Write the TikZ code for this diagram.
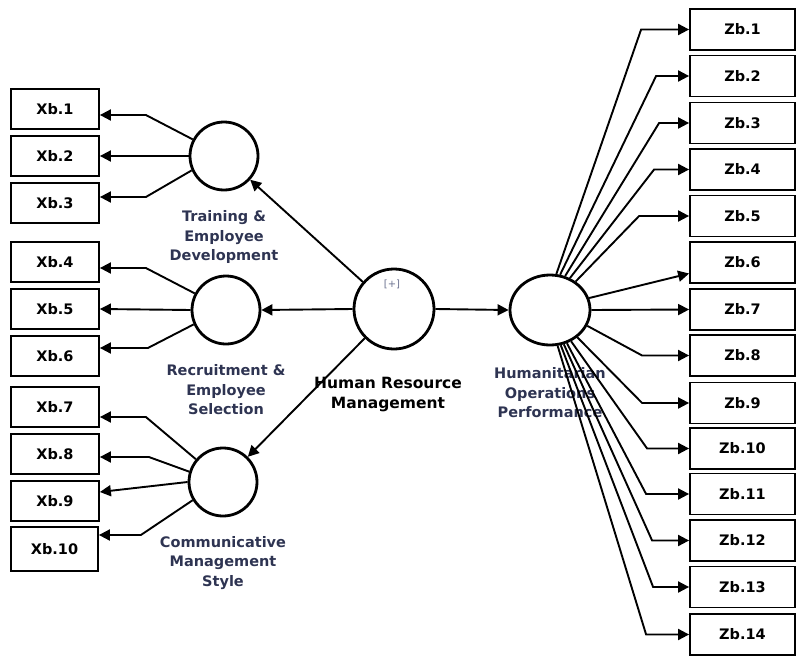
\documentclass[tikz,border=0pt]{standalone}
\usepackage{fontspec}
\setmainfont{DejaVu Sans}
\usetikzlibrary{arrows.meta,shapes.geometric}
\definecolor{lblblue}{HTML}{2E3452}
\definecolor{plusgrey}{HTML}{6B7290}
\tikzset{
  itembox/.style={draw, line width=1.8pt, minimum width=88pt, minimum height=40pt, inner sep=0pt, font=\bfseries\fontsize{14.5}{16}\selectfont},
  zbox/.style={itembox, minimum width=105pt, minimum height=41pt},
  latent/.style={draw, circle, line width=2.8pt, minimum size=68pt, inner sep=0pt},
  latlabel/.style={align=center, text=lblblue, font=\bfseries\fontsize{14.5}{19.5}\selectfont},
  arr/.style={line width=1.9pt, -{Triangle[length=11pt,width=11pt]}}
}
\begin{document}
\begin{tikzpicture}[x=1pt,y=-1pt]
\useasboundingbox (0,0) rectangle (796,656);

% Left indicator boxes
\node[itembox] (xb1) at (55,109) {Xb.1};
\node[itembox] (xb2) at (55,156) {Xb.2};
\node[itembox] (xb3) at (55,203) {Xb.3};
\node[itembox] (xb4) at (55,262) {Xb.4};
\node[itembox] (xb5) at (55,309) {Xb.5};
\node[itembox] (xb6) at (55,356) {Xb.6};
\node[itembox] (xb7) at (55,407) {Xb.7};
\node[itembox] (xb8) at (55,454) {Xb.8};
\node[itembox] (xb9) at (55,501) {Xb.9};
\node[itembox, minimum width=87pt, minimum height=44pt] (xb10) at (54.5,549) {Xb.10};

% Right indicator boxes
\node[zbox] (zb1) at (742.5,29.5) {Zb.1};
\node[zbox] (zb2) at (742.5,76) {Zb.2};
\node[zbox] (zb3) at (742.5,123) {Zb.3};
\node[zbox] (zb4) at (742.5,169.5) {Zb.4};
\node[zbox] (zb5) at (742.5,216) {Zb.5};
\node[zbox] (zb6) at (742.5,262.5) {Zb.6};
\node[zbox] (zb7) at (742.5,309.5) {Zb.7};
\node[zbox] (zb8) at (742.5,355.5) {Zb.8};
\node[zbox] (zb9) at (742.5,403) {Zb.9};
\node[zbox] (zb10) at (742.5,448.5) {Zb.10};
\node[zbox] (zb11) at (742.5,494) {Zb.11};
\node[zbox] (zb12) at (742.5,540.5) {Zb.12};
\node[zbox] (zb13) at (742.5,587) {Zb.13};
\node[zbox] (zb14) at (742.5,634.5) {Zb.14};

% Latent variables
\node[latent] (ted) at (224,156) {};
\node[latent] (res) at (226,310) {};
\node[latent] (cms) at (223,482) {};
\node[latent, minimum size=80pt] (hrm) at (394,309) {};
\node[draw, ellipse, line width=2.8pt, minimum width=80pt, minimum height=70pt, inner sep=0pt] (hop) at (550,310) {};

% Labels
\node[latlabel] (tedlbl) at (224,237) {Training \&\\Employee\\Development};
\node[latlabel] (reslbl) at (226,390) {Recruitment \&\\Employee\\Selection};
\node[latlabel] (cmslbl) at (223,563) {Communicative\\Management\\Style};
\node[latlabel, text=black, font=\bfseries\fontsize{15.5}{20}\selectfont] (hrmlbl) at (388,395) {Human Resource\\Management};
\node[latlabel] (hoplbl) at (550,393) {Humanitarian\\Operations\\Performance};
\node[text=plusgrey, font=\fontsize{10}{11}\selectfont] (plus) at (392,284) {[+]};

% Structural paths
\draw[arr] (hrm.139) -- (ted);
\draw[arr] (hrm.west) -- (res.east);
\draw[arr] (hrm.225) -- (cms);
\draw[arr] (hrm.east) -- (hop.west);

% Outer loadings, left side
\draw[arr] (ted.152) -- ([xshift=46pt,yshift=-6pt]xb1.east) -- ([yshift=-6pt]xb1.east);
\draw[arr] (ted.180) -- (xb2.east);
\draw[arr] (ted.204) -- ([xshift=46pt,yshift=6pt]xb3.east) -- ([yshift=6pt]xb3.east);
\draw[arr] (res.152) -- ([xshift=46pt,yshift=-6pt]xb4.east) -- ([yshift=-6pt]xb4.east);
\draw[arr] (res.180) -- (xb5.east);
\draw[arr] (res.204) -- ([xshift=48pt,yshift=8pt]xb6.east) -- ([yshift=8pt]xb6.east);
\draw[arr] (cms.140) -- ([xshift=46pt,yshift=-10pt]xb7.east) -- ([yshift=-10pt]xb7.east);
\draw[arr] (cms.163) -- ([xshift=49pt,yshift=-3pt]xb8.east) -- ([yshift=-3pt]xb8.east);
\draw[arr] (cms.180) -- ([yshift=9pt]xb9.east);
\draw[arr] (cms.211) -- ([xshift=42pt,yshift=14pt]xb10.east) -- ([yshift=14pt]xb10.east);

% Outer loadings, right side
\draw[arr] (hop.80) -- ([xshift=-48pt]zb1.west) -- (zb1.west);
\draw[arr] (hop.74) -- ([xshift=-33pt]zb2.west) -- (zb2.west);
\draw[arr] (hop.66) -- ([xshift=-30pt]zb3.west) -- (zb3.west);
\draw[arr] (hop.58) -- ([xshift=-35pt]zb4.west) -- (zb4.west);
\draw[arr] (hop.48) -- ([xshift=-50pt]zb5.west) -- (zb5.west);
\draw[arr] (hop.17) -- ([yshift=-11pt]zb6.west);
\draw[arr] (hop.east) -- (zb7.west);
\draw[arr] (hop.-23) -- ([xshift=-47pt]zb8.west) -- (zb8.west);
\draw[arr] (hop.-45) -- ([xshift=-47pt]zb9.west) -- (zb9.west);
\draw[arr] (hop.-56) -- ([xshift=-42pt]zb10.west) -- (zb10.west);
\draw[arr] (hop.-63) -- ([xshift=-43pt]zb11.west) -- (zb11.west);
\draw[arr] (hop.-68) -- ([xshift=-37pt]zb12.west) -- (zb12.west);
\draw[arr] (hop.-73) -- ([xshift=-36pt]zb13.west) -- (zb13.west);
\draw[arr] (hop.-78) -- ([xshift=-43pt]zb14.west) -- (zb14.west);
\end{tikzpicture}
\end{document}
